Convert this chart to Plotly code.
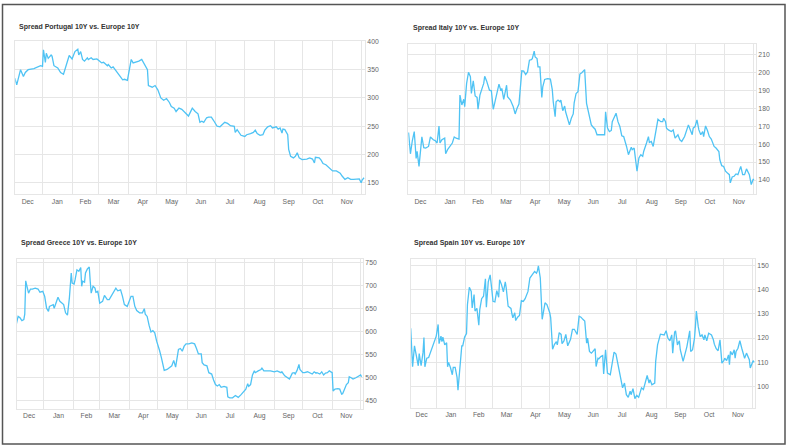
import plotly.graph_objects as go

W, H = 789, 448

titles = [
    "Spread Portugal 10Y vs. Europe 10Y",
    "Spread Italy 10Y vs. Europe 10Y",
    "Spread Greece 10Y vs. Europe 10Y",
    "Spread Spain 10Y vs. Europe 10Y",
]

pt_dates = ["2016-12-03","2016-12-05","2016-12-09","2016-12-12","2016-12-14","2016-12-17","2016-12-23","2016-12-26","2016-12-30",
"2017-01-01","2017-01-02","2017-01-04","2017-01-05","2017-01-07","2017-01-10","2017-01-11","2017-01-13","2017-01-17","2017-01-20","2017-01-23","2017-01-24","2017-01-27","2017-01-29",
"2017-02-01","2017-02-04","2017-02-07","2017-02-08","2017-02-10","2017-02-12","2017-02-14","2017-02-17","2017-02-18","2017-02-21","2017-02-23","2017-02-27",
"2017-03-02","2017-03-04","2017-03-06","2017-03-10","2017-03-11","2017-03-14","2017-03-16","2017-03-20","2017-03-23","2017-03-26","2017-03-28","2017-03-31",
"2017-04-04","2017-04-06","2017-04-09","2017-04-12","2017-04-15","2017-04-19","2017-04-21","2017-04-22","2017-04-26","2017-04-29",
"2017-05-02","2017-05-05","2017-05-08","2017-05-11","2017-05-14","2017-05-16","2017-05-19","2017-05-21","2017-05-24","2017-05-27","2017-05-31",
"2017-06-03","2017-06-05","2017-06-07","2017-06-10","2017-06-13","2017-06-15","2017-06-17","2017-06-19","2017-06-22","2017-06-24","2017-06-27","2017-06-29",
"2017-07-01","2017-07-03","2017-07-06","2017-07-09","2017-07-11","2017-07-14","2017-07-17","2017-07-21","2017-07-22","2017-07-24","2017-07-27","2017-07-28",
"2017-08-01","2017-08-03","2017-08-07","2017-08-10","2017-08-12","2017-08-14","2017-08-17","2017-08-20","2017-08-22","2017-08-25","2017-08-28","2017-08-30",
"2017-09-03","2017-09-05","2017-09-07","2017-09-09","2017-09-10","2017-09-12","2017-09-15","2017-09-16","2017-09-18","2017-09-21","2017-09-23","2017-09-25","2017-09-27","2017-09-30",
"2017-10-05","2017-10-08","2017-10-11","2017-10-13","2017-10-14","2017-10-18","2017-10-20","2017-10-22","2017-10-25","2017-10-28","2017-10-30",
"2017-11-01","2017-11-05","2017-11-09","2017-11-11","2017-11-14","2017-11-17","2017-11-20","2017-11-23","2017-11-26","2017-11-29",
"2017-12-01","2017-12-02","2017-12-04"]
pt_values = [335,323,350,338,345,350,352,354,357,
356,385,363,379,370,376,374,357,353,345,342,347,365,375,
369,382,386,376,382,368,365,371,368,371,368,369,
365,362,363,357,359,353,355,347,339,332,333,331,
368,362,363,365,368,357,350,322,319,322,
314,300,296,299,292,285,282,276,282,280,272,
268,275,282,276,272,257,259,257,265,266,266,261,
255,250,249,255,257,255,251,250,239,244,237,234,
232,235,237,239,243,237,234,235,243,249,251,247,
249,245,247,238,245,244,235,209,197,194,197,203,194,191,
192,194,192,185,195,194,190,184,182,178,174,
171,171,167,162,156,159,156,156,157,157,
150,155,159]

it_dates = ["2016-12-04","2016-12-06","2016-12-08","2016-12-10","2016-12-12","2016-12-13","2016-12-15","2016-12-17","2016-12-18","2016-12-20","2016-12-22","2016-12-25","2016-12-27","2016-12-30",
"2017-01-01","2017-01-03","2017-01-05","2017-01-06","2017-01-08","2017-01-11","2017-01-12","2017-01-14","2017-01-17","2017-01-19","2017-01-21","2017-01-23","2017-01-26","2017-01-27","2017-01-29","2017-01-31",
"2017-02-01","2017-02-03","2017-02-05","2017-02-07","2017-02-08","2017-02-10","2017-02-12","2017-02-14","2017-02-15","2017-02-17","2017-02-20","2017-02-21","2017-02-22","2017-02-24","2017-02-27",
"2017-03-01","2017-03-03","2017-03-05","2017-03-07","2017-03-09","2017-03-11","2017-03-12","2017-03-14","2017-03-17","2017-03-18","2017-03-21","2017-03-24","2017-03-26","2017-03-28","2017-03-30",
"2017-04-02","2017-04-04","2017-04-06","2017-04-08","2017-04-10","2017-04-12","2017-04-13","2017-04-15","2017-04-16","2017-04-18","2017-04-19","2017-04-21","2017-04-23","2017-04-24","2017-04-26","2017-04-29",
"2017-05-02","2017-05-04","2017-05-05","2017-05-07","2017-05-08","2017-05-10","2017-05-12","2017-05-13","2017-05-15","2017-05-17","2017-05-18","2017-05-20","2017-05-22","2017-05-24","2017-05-26","2017-05-27","2017-05-29","2017-05-31",
"2017-06-02","2017-06-04","2017-06-07","2017-06-09","2017-06-11","2017-06-14","2017-06-16","2017-06-18","2017-06-20","2017-06-23","2017-06-26","2017-06-28","2017-06-29",
"2017-07-01","2017-07-03","2017-07-05","2017-07-06","2017-07-08","2017-07-10","2017-07-12","2017-07-14","2017-07-16","2017-07-18","2017-07-21","2017-07-23","2017-07-26","2017-07-27","2017-07-29",
"2017-08-01","2017-08-03","2017-08-05","2017-08-07","2017-08-08","2017-08-11","2017-08-13","2017-08-14","2017-08-16","2017-08-18","2017-08-20","2017-08-22","2017-08-23","2017-08-26","2017-08-28","2017-08-29","2017-08-31",
"2017-09-01","2017-09-03","2017-09-06","2017-09-08","2017-09-10","2017-09-13","2017-09-15","2017-09-17","2017-09-20","2017-09-23","2017-09-24","2017-09-26","2017-09-28","2017-09-29",
"2017-10-01","2017-10-03","2017-10-05","2017-10-07","2017-10-09","2017-10-10","2017-10-12","2017-10-14","2017-10-16","2017-10-18","2017-10-21","2017-10-23","2017-10-26","2017-10-27","2017-10-29","2017-10-31",
"2017-11-02","2017-11-04","2017-11-06","2017-11-07","2017-11-09","2017-11-11","2017-11-13","2017-11-15","2017-11-16","2017-11-18","2017-11-20","2017-11-22","2017-11-24","2017-11-25","2017-11-27","2017-11-29",
"2017-12-01","2017-12-02"]
it_values = [166.5,154.6,162,167,152,156,147.6,158.7,164,158,157.8,158.7,164,162.4,
162,160.6,170,160.6,162.4,163.3,154.6,156.9,159,160.6,164,163.3,162.8,187.3,181.8,185,
180.8,193.8,200,197.5,188.2,195.2,186.8,186,179.4,187.3,192.3,193.8,197.8,195.2,190,
189.7,179.4,184.5,189.2,193.4,189.7,191,184.9,192.8,186.4,184.5,180.8,176.8,180,182.3,
200.8,200.6,198.7,200.2,206.7,207,207.6,211.8,208.5,207.6,203,203,186,191.9,196,196.5,
196.2,190.4,183.6,175.3,183.6,184.5,183.6,184.5,178.6,181.2,178,174.4,170.7,174.4,176.8,183,188.2,189.2,
199,199.7,201.5,182.7,178,170.7,169.4,168.3,165.2,165.2,165.2,165.2,178,
168.9,167,167.6,172.5,175,177.2,172.5,169.8,164.6,164.2,158.7,154.1,158.3,156.9,157.8,
144.9,152.3,154.1,153.2,155.9,160.6,164.2,160.9,161.5,158.7,164.2,168.9,173.8,172.5,172.5,174.4,172.5,
168.9,167.9,167,167.9,163.3,165.2,162.4,161.5,164.2,169.4,170.7,167.9,165.2,168.9,
169.8,173.5,167.9,165.2,167,164.2,170.1,167.6,164.2,162.8,158.7,157.8,155.9,151.3,148,147.6,
144.9,143.9,143,138.4,141.7,142.1,143.4,143,144.9,147.6,143,143,146.2,144.9,143,137.5,
140.3,140.3]

gr_dates = ["2016-12-03","2016-12-05","2016-12-07","2016-12-09","2016-12-11","2016-12-12","2016-12-13","2016-12-15","2016-12-16","2016-12-18","2016-12-20","2016-12-23","2016-12-26","2016-12-28","2016-12-31",
"2017-01-02","2017-01-04","2017-01-06","2017-01-07","2017-01-09","2017-01-11","2017-01-12","2017-01-14","2017-01-16","2017-01-18","2017-01-20","2017-01-22","2017-01-24","2017-01-26","2017-01-28","2017-01-30","2017-01-31",
"2017-02-02","2017-02-03","2017-02-05","2017-02-07","2017-02-09","2017-02-10","2017-02-11","2017-02-13","2017-02-14","2017-02-16","2017-02-18","2017-02-19","2017-02-20","2017-02-22","2017-02-24","2017-02-25","2017-02-27",
"2017-03-01","2017-03-03","2017-03-04","2017-03-06","2017-03-09","2017-03-11","2017-03-13","2017-03-16","2017-03-18","2017-03-20","2017-03-23","2017-03-25","2017-03-27","2017-03-30",
"2017-04-01","2017-04-03","2017-04-05","2017-04-07","2017-04-09","2017-04-12","2017-04-15","2017-04-17","2017-04-18","2017-04-20","2017-04-22","2017-04-24","2017-04-26","2017-04-28","2017-04-30",
"2017-05-02","2017-05-03","2017-05-05","2017-05-07","2017-05-08","2017-05-11","2017-05-13","2017-05-16","2017-05-18","2017-05-20","2017-05-23","2017-05-25","2017-05-27","2017-05-29","2017-05-31",
"2017-06-03","2017-06-06","2017-06-09","2017-06-11","2017-06-13","2017-06-16","2017-06-17","2017-06-19","2017-06-22","2017-06-24","2017-06-27","2017-06-29",
"2017-07-01","2017-07-03","2017-07-05","2017-07-07","2017-07-10","2017-07-13","2017-07-14","2017-07-16","2017-07-19","2017-07-22","2017-07-24","2017-07-25","2017-07-28","2017-07-31",
"2017-08-02","2017-08-04","2017-08-05","2017-08-07","2017-08-09","2017-08-11","2017-08-12","2017-08-15","2017-08-18","2017-08-19","2017-08-21","2017-08-24","2017-08-28",
"2017-09-01","2017-09-04","2017-09-08","2017-09-09","2017-09-12","2017-09-15","2017-09-17","2017-09-20","2017-09-22","2017-09-23","2017-09-25","2017-09-27","2017-09-28",
"2017-10-01","2017-10-03","2017-10-06","2017-10-08","2017-10-11","2017-10-13","2017-10-15","2017-10-16","2017-10-19","2017-10-21","2017-10-23","2017-10-25","2017-10-27","2017-10-29",
"2017-11-01","2017-11-02","2017-11-04","2017-11-07","2017-11-09","2017-11-11","2017-11-12","2017-11-14","2017-11-16","2017-11-18","2017-11-19","2017-11-21","2017-11-23","2017-11-26","2017-11-28",
"2017-12-01","2017-12-02"]
gr_values = [615,633,630,624,626,638,711,688,684,693,693,695,693,686,688,
677,651,644,655,657,659,651,666,675,666,662,659,641,636,673,728,706,
704,713,735,732,740,699,710,708,728,737,741,710,684,699,695,686,688,
662,664,666,679,670,670,677,686,695,689,691,677,659,655,
666,677,677,655,646,641,641,650,638,633,614,599,602,597,579,
561,559,543,521,515,517,521,525,537,522,561,563,557,568,573,
573,575,573,563,551,551,532,527,525,510,507,494,
484,481,484,478,480,478,457,455,455,460,457,456,462,469,
474,486,480,484,505,514,510,514,517,520,514,514,514,
512,514,510,512,503,499,496,509,510,507,515,528,517,
510,510,512,510,507,512,509,510,507,512,505,509,510,514,
510,470,474,475,474,463,464,474,484,488,501,499,496,499,501,
505,501]

es_dates = ["2016-12-05","2016-12-06","2016-12-07","2016-12-09","2016-12-11","2016-12-13","2016-12-14","2016-12-16","2016-12-18","2016-12-19","2016-12-20","2016-12-22","2016-12-24","2016-12-27","2016-12-29",
"2017-01-01","2017-01-03","2017-01-04","2017-01-06","2017-01-07","2017-01-08","2017-01-10","2017-01-12","2017-01-13","2017-01-14","2017-01-16","2017-01-18","2017-01-19","2017-01-21","2017-01-23","2017-01-24","2017-01-26","2017-01-28","2017-01-29","2017-01-31",
"2017-02-02","2017-02-03","2017-02-05","2017-02-07","2017-02-08","2017-02-10","2017-02-11","2017-02-13","2017-02-15","2017-02-16","2017-02-18","2017-02-20","2017-02-22","2017-02-23","2017-02-25","2017-02-27",
"2017-03-01","2017-03-02","2017-03-04","2017-03-06","2017-03-08","2017-03-09","2017-03-11","2017-03-13","2017-03-15","2017-03-16","2017-03-18","2017-03-21","2017-03-22","2017-03-23","2017-03-25","2017-03-26","2017-03-28","2017-03-30",
"2017-04-01","2017-04-03","2017-04-05","2017-04-08","2017-04-10","2017-04-12","2017-04-15","2017-04-17","2017-04-18","2017-04-19","2017-04-21","2017-04-23","2017-04-25","2017-04-26","2017-04-28",
"2017-05-01","2017-05-02","2017-05-04","2017-05-06","2017-05-08","2017-05-09","2017-05-11","2017-05-13","2017-05-14","2017-05-16","2017-05-18","2017-05-20","2017-05-22","2017-05-23","2017-05-25","2017-05-27","2017-05-29","2017-05-30",
"2017-06-01","2017-06-03","2017-06-05","2017-06-07","2017-06-09","2017-06-10","2017-06-12","2017-06-14","2017-06-15","2017-06-18","2017-06-19","2017-06-21","2017-06-22","2017-06-24","2017-06-26","2017-06-27","2017-06-29","2017-06-30",
"2017-07-01","2017-07-04","2017-07-05","2017-07-08","2017-07-10","2017-07-12","2017-07-14","2017-07-16","2017-07-17","2017-07-19","2017-07-21","2017-07-23","2017-07-25","2017-07-26","2017-07-28","2017-07-30",
"2017-08-01","2017-08-03","2017-08-06","2017-08-08","2017-08-09","2017-08-12","2017-08-14","2017-08-15","2017-08-17","2017-08-20","2017-08-21","2017-08-23","2017-08-26","2017-08-28","2017-08-30",
"2017-09-01","2017-09-03","2017-09-05","2017-09-07","2017-09-08","2017-09-10","2017-09-11","2017-09-13","2017-09-15","2017-09-16","2017-09-19","2017-09-21","2017-09-23","2017-09-26","2017-09-27","2017-09-29",
"2017-10-01","2017-10-02","2017-10-03","2017-10-05","2017-10-07","2017-10-09","2017-10-11","2017-10-12","2017-10-14","2017-10-16","2017-10-19","2017-10-21","2017-10-22","2017-10-24","2017-10-26","2017-10-28","2017-10-30",
"2017-11-01","2017-11-02","2017-11-04","2017-11-06","2017-11-07","2017-11-08","2017-11-10","2017-11-12","2017-11-13","2017-11-14","2017-11-16","2017-11-18","2017-11-20","2017-11-21","2017-11-23","2017-11-25","2017-11-26","2017-11-28","2017-11-29",
"2017-12-01","2017-12-02","2017-12-03"]
es_values = [124,116,108.2,116.8,112.7,108.6,113.6,108.6,114,120.2,108.2,111.7,112,115.4,116.8,
120.8,125.6,117.7,120.8,118.5,120.4,117.2,118.1,108.2,110,107.9,104.9,107.9,107.9,103.8,98.6,109.3,116.8,116.8,120.4,
121.8,133.8,140.9,139.2,132.4,137.9,131.1,132.2,125.3,131.7,136.2,137.2,144.4,132.7,143.1,146,
139,135.1,134.9,139.5,136.8,144,142,139,143.1,140.6,133.1,132.2,130,128.3,130.4,127.2,128.6,129.3,
135.4,135.1,136.2,139.2,144.7,146,147.4,146.7,147.7,149.7,144.7,127.7,132.4,134.5,133.8,
130.4,128.3,115.4,117.4,118.5,117.2,122.2,121.5,117.7,118.8,121.5,116.8,118.8,119.5,123.6,123.6,122.2,121.5,
129,128.6,127.7,127,117.9,120,114.5,113.8,114.2,115.6,108.3,111.7,111.5,112.4,112.8,105.2,115.2,109,
105.6,104.9,107.7,114.2,113.4,109.7,105.6,102.2,99.5,101.5,96.7,95.6,98.1,96.7,99.2,95.1,
96.4,95.6,99.5,98.8,100.1,104.6,101.5,102.9,100.8,101.5,110.4,117.2,121.6,121.6,121.3,
123,119.9,118.9,121.3,113.8,122.4,123,117.2,118.9,115.2,110.4,113.4,116.5,123,114.5,115.2,
119.9,124.7,131.1,124.7,120.6,121.3,119.3,121.3,118.9,122,121.3,119.3,117.5,115.6,114.8,119.3,109.7,
110.7,111.7,110.7,113.1,109,114.5,113.1,115.2,111.7,114.5,115.8,118.9,115.8,114.5,111.7,113.8,113.1,111.1,107.7,
109.7,110.7,110.1]

series = [(pt_dates, pt_values), (it_dates, it_values), (gr_dates, gr_values), (es_dates, es_values)]

# layout geometry (pixels)
plot_px = [
    dict(x0=15.3, x1=365.0, y0=38.3, y1=192.7, yr=[129.5, 400.6], dt=50,
         xr=["2016-12-03 12:00", "2017-12-05"], tx=17, ty=24),
    dict(x0=408.3, x1=756.0, y0=41.7, y1=192.7, yr=[132.0, 215.5], dt=10,
         xr=["2016-12-03 18:00", "2017-12-04"], tx=411, ty=25),
    dict(x0=16.7, x1=363.0, y0=257.3, y1=409.0, yr=[430.0, 759.6], dt=50,
         xr=["2016-12-03 12:00", "2017-12-03 12:00"], tx=19, ty=242),
    dict(x0=410.7, x1=755.0, y0=257.3, y1=407.3, yr=[91.4, 152.7], dt=10,
         xr=["2016-12-05", "2017-12-04"], tx=412, ty=242),
]

FONT = "Liberation Sans, Arial, sans-serif"
GRID = "#e6e6e6"
LINE = "#4fc3f4"

fig = go.Figure()
layout = dict(width=W, height=H, margin=dict(l=0, r=0, t=0, b=0),
              paper_bgcolor="white", plot_bgcolor="white", showlegend=False,
              font=dict(family=FONT))
annotations = []
for i, (p, (d, v)) in enumerate(zip(plot_px, series)):
    n = "" if i == 0 else str(i + 1)
    fig.add_trace(go.Scatter(x=d, y=v, mode="lines", xaxis="x" + n, yaxis="y" + n,
                             line=dict(color=LINE, width=1.3), hoverinfo="skip"))
    layout["xaxis" + n] = dict(
        domain=[p["x0"] / W, p["x1"] / W], anchor="y" + n, type="date", range=p["xr"],
        dtick="M1", tick0="2017-01-01", tickformat="%b", ticklabelmode="period",
        showgrid=True, gridcolor=GRID, gridwidth=1, showline=True, mirror=True,
        linecolor=GRID, linewidth=1, zeroline=False, ticks="",
        tickfont=dict(family=FONT, size=6.8, color="#666"))
    layout["yaxis" + n] = dict(
        domain=[1 - p["y1"] / H, 1 - p["y0"] / H], anchor="x" + n, range=p["yr"],
        dtick=p["dt"], side="right", showgrid=True, gridcolor=GRID, gridwidth=1,
        showline=True, mirror=True, linecolor=GRID, linewidth=1, zeroline=False,
        ticks="", tickfont=dict(family=FONT, size=6.8, color="#666"))
    annotations.append(dict(text="<b>" + titles[i] + "</b>", xref="paper", yref="paper",
                            x=p["tx"] / W, y=1 - p["ty"] / H, xanchor="left", yanchor="middle",
                            showarrow=False, font=dict(family=FONT, size=7, color="#333")))

layout["annotations"] = annotations
layout["shapes"] = [dict(type="rect", xref="paper", yref="paper",
                         x0=2.5 / W, x1=785 / W, y0=1 - 444 / H, y1=1 - 1.5 / H,
                         line=dict(color="#555", width=1.5), fillcolor="rgba(0,0,0,0)")]
fig.update_layout(**layout)
fig.write_html("out.html", config={"displayModeBar": False},
               post_script="document.body.style.margin='0';document.body.style.padding='0';document.body.style.overflow='hidden';")
